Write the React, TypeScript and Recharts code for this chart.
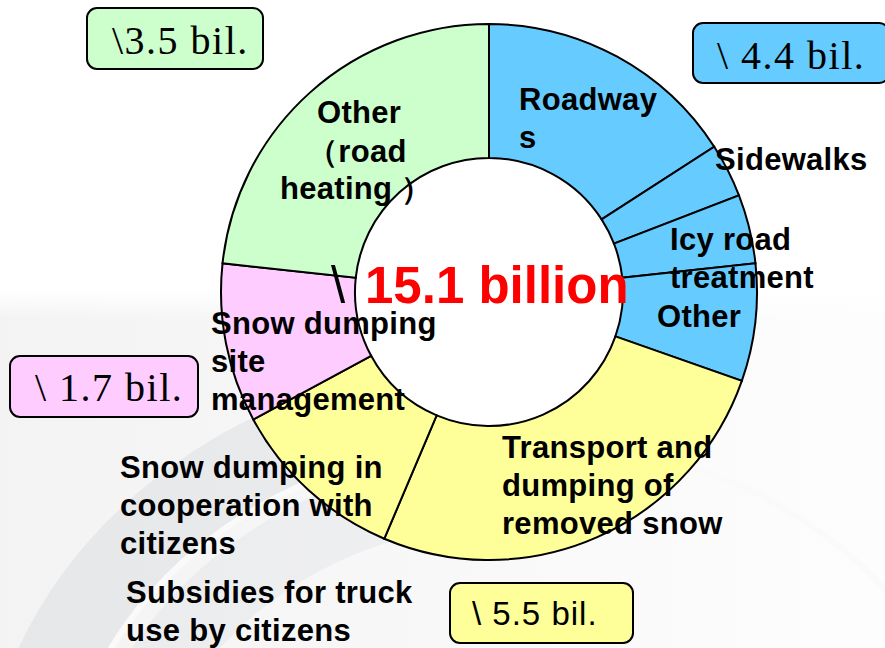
import { PieChart, Pie, Cell } from "recharts";

// snow removal budget breakdown (billion yen)
const categories = [
  "Roadways",
  "Sidewalks",
  "Icy road treatment",
  "Other",
  "Transport and dumping of removed snow",
  "Snow dumping in cooperation with citizens",
  "Snow dumping site management",
  "Other (road heating)",
];
const values = [2.4, 0.49, 0.63, 1.07, 3.93, 1.62, 1.45, 3.52];
const groups = ["road", "road", "road", "road", "transport", "transport", "site", "heating"];

const groupColors: Record<string, string> = {
  road: "#66ccff",
  transport: "#ffff99",
  site: "#ffccff",
  heating: "#ccffcc",
};

const totalLabels = ["\\ 4.4 bil.", "\\ 5.5 bil.", "\\ 1.7 bil.", "\\3.5 bil."];
const totalGroups = ["road", "transport", "site", "heating"];
const grandTotal = "15.1 billion";

const data = categories.map((name, i) => ({ name, value: values[i], group: groups[i] }));

// where the text sits in the picture
const labelLayout = [
  { x: 519, y: 110, lines: ["Roadway", "s"] },
  { x: 715, y: 170, lines: ["Sidewalks"] },
  { x: 670, y: 250, lines: ["Icy road", "treatment"] },
  { x: 657, y: 327, lines: ["Other"] },
  { x: 502, y: 458, lines: ["Transport and", "dumping of", "removed snow"] },
  { x: 120, y: 478, lines: ["Snow dumping in", "cooperation with", "citizens"] },
  { x: 126, y: 603, lines: ["Subsidies for truck", "use by citizens"] },
  { x: 211, y: 334, lines: ["Snow dumping", "site", "management"] },
];

const boxLayout = [
  { x: 693, y: 23, w: 196, h: 60, tx: 717, ty: 69, serif: true },
  { x: 450, y: 583, w: 183, h: 60, tx: 472, ty: 625, serif: false },
  { x: 10, y: 356, w: 188, h: 61, tx: 35, ty: 401, serif: true },
  { x: 87, y: 8, w: 176, h: 61, tx: 112, ty: 54, serif: true },
];

const sans = "'Liberation Sans', Arial, sans-serif";
const serif = "'Liberation Serif', 'Times New Roman', serif";

function Background() {
  return (
    <svg width={885} height={648} style={{ position: "absolute", left: 0, top: 0 }}>
      <defs>
        <linearGradient id="bgFade" x1="0" y1="0" x2="885" y2="0" gradientUnits="userSpaceOnUse">
          <stop offset="0" stopColor="#f3f3f4" />
          <stop offset="1" stopColor="#fdfdfd" />
        </linearGradient>
        <linearGradient id="topFade" x1="0" y1="290" x2="0" y2="320" gradientUnits="userSpaceOnUse">
          <stop offset="0" stopColor="#ffffff" stopOpacity={1} />
          <stop offset="1" stopColor="#ffffff" stopOpacity={0} />
        </linearGradient>
        <linearGradient id="swoosh" x1="0" y1="0" x2="620" y2="0" gradientUnits="userSpaceOnUse">
          <stop offset="0" stopColor="#e6e7e9" />
          <stop offset="0.6" stopColor="#eaebed" />
          <stop offset="1" stopColor="#eaebed" stopOpacity={0} />
        </linearGradient>
      </defs>
      <rect x={0} y={290} width={885} height={358} fill="url(#bgFade)" />
      <ellipse cx={520} cy={820} rx={500} ry={423} fill="none" stroke="url(#swoosh)" strokeWidth={80} />
      <ellipse cx={520} cy={820} rx={458} ry={381} fill="none" stroke="#fafafa" strokeWidth={6} />
      <ellipse cx={530} cy={830} rx={418} ry={345} fill="none" stroke="url(#swoosh)" strokeWidth={70} opacity={0.7} />
      <rect x={0} y={290} width={885} height={30} fill="url(#topFade)" />
      {/* the donut hole is plain white */}
      <circle cx={489} cy={292} r={134} fill="#ffffff" />
    </svg>
  );
}

function Overlay() {
  return (
    <svg width={885} height={648} style={{ position: "absolute", left: 0, top: 0, pointerEvents: "none" }}>
      {labelLayout.map((l, i) => (
        <text key={i} x={l.x} y={l.y} fontFamily={sans} fontWeight="bold" fontSize={31} letterSpacing={0.3} fill="#000">
          {l.lines.map((line, j) => (
            <tspan key={j} x={l.x} dy={j === 0 ? 0 : 38}>
              {line}
            </tspan>
          ))}
        </text>
      ))}
      {/* road heating label, centred */}
      <text fontFamily={sans} fontWeight="bold" fontSize={31} letterSpacing={0.3} fill="#000">
        <tspan x={317} y={123}>Other</tspan>
        <tspan x={307} y={162}>（road</tspan>
        <tspan x={280} y={199}>heating ）</tspan>
      </text>
      <text y={303} fontSize={51} fontFamily={sans}>
        <tspan x={331} fill="#000">\</tspan>
        <tspan x={365} fill="#ff0000" fontWeight="bold">
          {grandTotal}
        </tspan>
      </text>
      {boxLayout.map((b, i) => (
        <g key={i}>
          <rect x={b.x} y={b.y} width={b.w} height={b.h} rx={10} fill={groupColors[totalGroups[i]]} stroke="#000" strokeWidth={2} />
          <text
            x={b.tx}
            y={b.ty}
            fontFamily={b.serif ? serif : sans}
            fontSize={b.serif ? 40 : 33}
            letterSpacing={b.serif ? 1.5 : 1}
            fill="#000"
          >
            {totalLabels[i]}
          </text>
        </g>
      ))}
    </svg>
  );
}

export default function App() {
  return (
    <div style={{ position: "absolute", left: 0, top: 0, width: 885, height: 648, background: "#fff" }}>
      <Background />
      <div style={{ position: "absolute", left: 0, top: 0 }}>
        <PieChart width={885} height={648} margin={{ top: 0, right: 0, bottom: 0, left: 0 }}>
          <Pie
            data={data}
            dataKey="value"
            nameKey="name"
            cx={489}
            cy={292}
            innerRadius={134}
            outerRadius={268}
            startAngle={90}
            endAngle={-270}
            stroke="#000"
            strokeWidth={2}
            isAnimationActive={false}
          >
            {data.map((entry, index) => (
              <Cell key={`cell-${index}`} fill={groupColors[entry.group]} />
            ))}
          </Pie>
        </PieChart>
      </div>
      <Overlay />
    </div>
  );
}
